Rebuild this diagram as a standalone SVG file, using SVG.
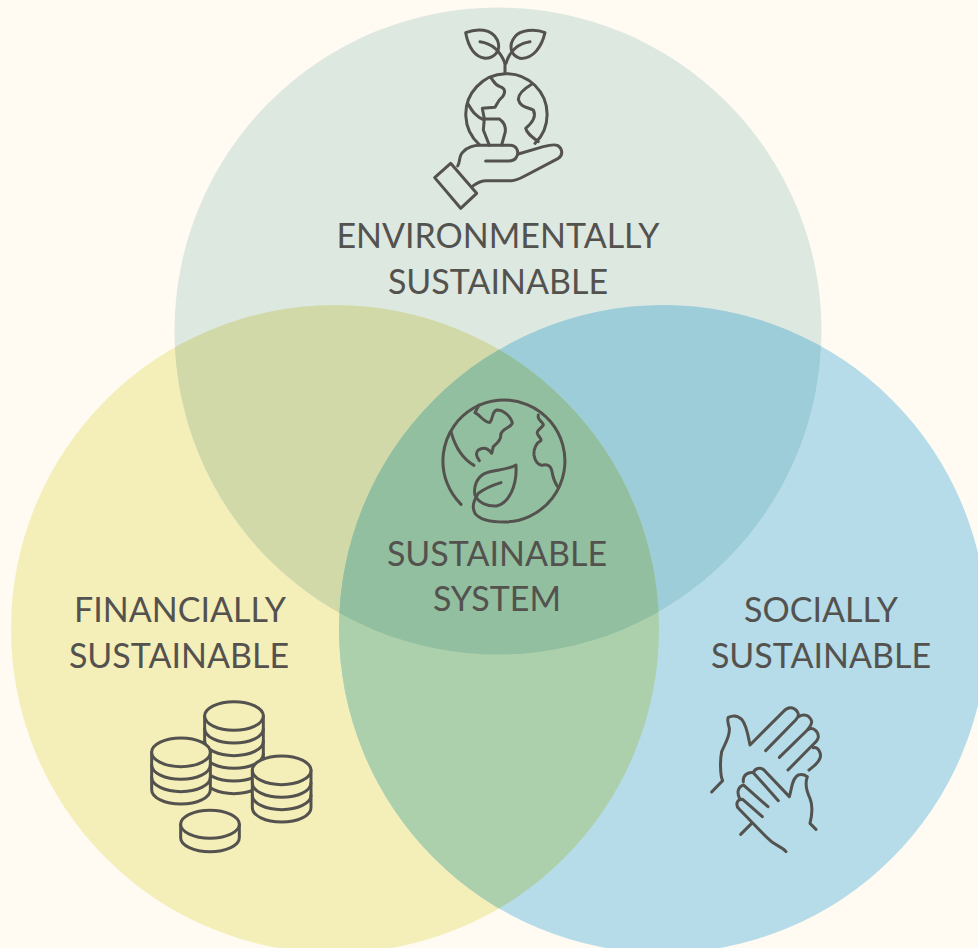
<svg xmlns="http://www.w3.org/2000/svg" width="978" height="948" viewBox="0 0 978 948">
<style>
.t{font-family:Lato,"Noto Sans",sans-serif;font-size:34px;fill:#54524e;text-anchor:middle;font-weight:400}
.i{fill:none;stroke:#54524e;stroke-width:9;stroke-linecap:round;stroke-linejoin:round}
.c{fill:#f4efb9}
</style>
<defs>
<clipPath id="cT"><circle cx="498" cy="331" r="323.5"/></clipPath>
<clipPath id="cL"><circle cx="335" cy="629" r="324"/></clipPath>
<clipPath id="cR"><circle cx="663" cy="629" r="324"/></clipPath>
</defs>
<rect width="978" height="948" fill="#fffaf2"/>
<g id="circles">
<circle id="circle-financial" cx="335" cy="629" r="324" fill="#f4efb9"/>
<circle id="circle-social" cx="663" cy="629" r="324" fill="#b5dce8"/>
<circle id="circle-environmental" cx="498" cy="331" r="323.5" fill="#dde8e0"/>
<g clip-path="url(#cT)"><circle cx="335" cy="629" r="324" fill="#d2d9a8"/><circle cx="663" cy="629" r="324" fill="#9dcdd9"/></g>
<g clip-path="url(#cL)"><circle cx="663" cy="629" r="324" fill="#abd0ab"/></g>
<g clip-path="url(#cL)"><g clip-path="url(#cR)"><circle cx="498" cy="331" r="323.5" fill="#92bf9f"/></g></g>
</g>
<g id="node-environmental">
<g class="i" transform="translate(420 20) scale(.3333)">
<path d="M92,430L170,520L122,565L44,473Z"/>
<path d="M113,438C122,425 115,405 130,395C145,380 165,376 180,376L270,376C290,376 298,395 290,410C285,422 275,423 265,423L197,423"/>
<path d="M160,497C175,485 185,482 200,482L275,482C290,482 300,475 320,465L415,415C430,405 428,385 412,376C400,372 385,376 370,380L295,402"/>
<path d="M178,374A122,122 0 1 1 345,370"/>
<path d="M212,172C222,185 225,195 240,200C255,205 258,215 248,230C235,240 232,250 225,262L187,265L193,297L238,297C250,305 258,315 256,335L245,375"/>
<path d="M193,297L190,330L208,376M143,250C155,270 165,290 193,300"/>
<path d="M335,193C315,205 295,220 295,238C300,262 325,262 340,270C350,290 335,310 317,325C320,340 335,350 355,365"/>
<path d="M255,160L255,130"/>
<path d="M137,38C170,25 215,25 232,60C245,90 225,115 195,115C165,110 145,80 137,38Z"/>
<path d="M180,65C215,70 240,90 255,130"/>
<path d="M375,38C345,25 300,30 285,50C265,75 270,105 300,115C340,118 365,80 375,38Z"/>
<path d="M330,65C295,70 270,90 258,130"/>
</g>
<text class="t" x="498" y="248">ENVIRONMENTALLY</text>
<text class="t" x="498" y="294">SUSTAINABLE</text>
</g>
<g id="node-system">
<g class="i" transform="translate(430 390) scale(.3333)">
<path d="M93,343A183,183 0 1 1 222,396C190,396 150,390 135,370C125,350 130,335 145,310C165,295 190,285 213,278"/>
<path d="M258,225C235,240 190,240 165,250C140,262 130,290 135,315C145,340 175,350 200,348C235,340 262,290 258,225Z"/>
<path d="M63,125C75,170 95,205 132,226"/>
<path d="M147,45L135,68C150,75 165,100 180,97C190,85 185,65 200,60C225,60 245,85 247,100C240,115 215,115 212,135C215,150 200,160 190,170L185,190C175,175 160,170 145,180C135,190 140,200 148,212"/>
<path d="M325,75C320,90 340,95 340,105C335,115 320,120 322,130C325,140 335,145 333,152C320,158 310,175 312,195C315,215 325,228 340,225C360,220 365,235 368,255C372,270 378,285 386,293"/>
</g>
<text class="t" x="497" y="566">SUSTAINABLE</text>
<text class="t" x="497" y="611">SYSTEM</text>
</g>
<g id="node-financial">
<text class="t" x="180" y="622">FINANCIALLY</text>
<text class="t" x="179" y="668">SUSTAINABLE</text>
<g class="i" transform="translate(140 695) scale(.3333)">
<path class="c" d="M194,63L194,253A88,43 0 0 0 370,253L370,63Z"/>
<ellipse class="c" cx="282" cy="63" rx="88" ry="43"/>
<path d="M194,101a88,43 0 0 0 176,0M194,139a88,43 0 0 0 176,0M194,177a88,43 0 0 0 176,0M194,215a88,43 0 0 0 176,0"/>
<path class="c" d="M35,172L35,284A88,43 0 0 0 211,284L211,172Z"/>
<ellipse class="c" cx="123" cy="172" rx="88" ry="43"/>
<path d="M35,210a88,43 0 0 0 176,0M35,247a88,43 0 0 0 176,0"/>
<path class="c" d="M337,226L337,338A88,43 0 0 0 513,338L513,226Z"/>
<ellipse class="c" cx="425" cy="226" rx="88" ry="43"/>
<path d="M337,264a88,43 0 0 0 176,0M337,301a88,43 0 0 0 176,0"/>
<path class="c" d="M122,388L122,428A88,42 0 0 0 298,428L298,388Z"/>
<ellipse class="c" cx="210" cy="388" rx="88" ry="42"/>
</g>
</g>
<g id="node-social">
<text class="t" x="821" y="622">SOCIALLY</text>
<text class="t" x="821" y="668">SUSTAINABLE</text>
<g class="i" transform="translate(700 700) scale(.3333)">
<path d="M35,276L68,242C60,225 60,180 65,155C75,130 90,110 88,85C85,70 80,60 85,52C100,45 115,48 125,58C140,75 145,110 150,135L250,35C262,20 280,18 292,35C298,45 295,50 287,60L197,152"/>
<path d="M297,50C310,40 330,45 335,65C335,75 330,80 322,90L238,172"/>
<path d="M325,88C340,80 355,95 355,110C355,120 345,128 338,135L264,210"/>
<path d="M340,143C355,140 365,160 360,175C355,190 340,200 327,210"/>
<path d="M122,403L155,370"/>
<path d="M258,455C245,437 225,440 200,412L118,328C105,315 110,298 128,298L187,350"/>
<path d="M120,298C110,280 112,262 130,255L204,320"/>
<path d="M130,245C128,225 145,215 160,218L235,302"/>
<path d="M160,218C165,205 180,200 192,210L268,290C275,270 275,235 295,225C305,222 315,225 322,230C315,250 320,275 330,295C340,320 335,350 330,370L348,388"/>
</g>
</g>
</svg>
